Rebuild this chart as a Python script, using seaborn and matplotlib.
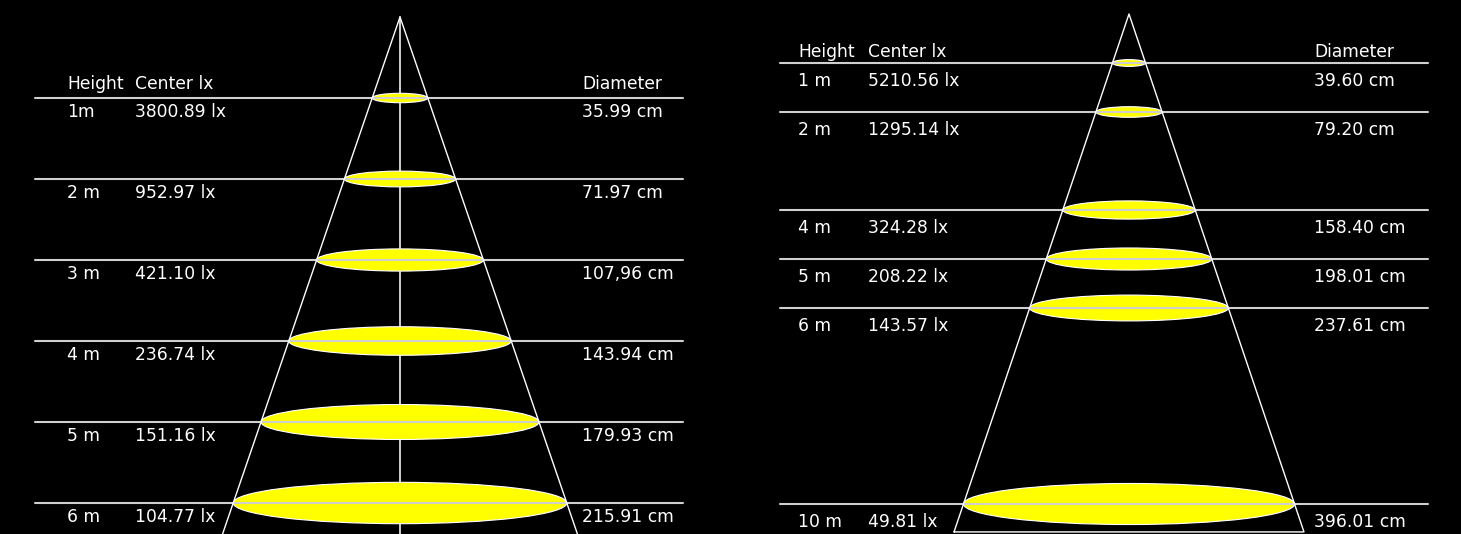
import numpy as np
import pandas as pd
import matplotlib.pyplot as plt
import seaborn as sns
from matplotlib.patches import Ellipse
from matplotlib.transforms import blended_transform_factory, offset_copy

# Data: left luminaire
left_heights = [1, 2, 3, 4, 5, 6]
left_height_labels = ['1m', '2 m', '3 m', '4 m', '5 m', '6 m']
left_lux = [3800.89, 952.97, 421.10, 236.74, 151.16, 104.77]
left_diam = [35.99, 71.97, 107.96, 143.94, 179.93, 215.91]
left_diam_labels = ['35.99 cm', '71.97 cm', '107,96 cm', '143.94 cm', '179.93 cm', '215.91 cm']

# Data: right luminaire
right_heights = [1, 2, 4, 5, 6, 10]
right_height_labels = ['1 m', '2 m', '4 m', '5 m', '6 m', '10 m']
right_lux = [5210.56, 1295.14, 324.28, 208.22, 143.57, 49.81]
right_diam = [39.60, 79.20, 158.40, 198.01, 237.61, 396.01]
right_diam_labels = [f'{d:.2f} cm' for d in right_diam]

sns.set_theme(style='dark', rc={'axes.facecolor': 'black', 'figure.facecolor': 'black'})
plt.rcParams['font.family'] = ['DejaVu Sans']

W_FIG, H_FIG = 1461, 534
fig = plt.figure(figsize=(W_FIG / 100, H_FIG / 100), dpi=100, facecolor='black')

# layout of each panel, in pixels
left_cfg = dict(x0=0, w=730, center=400, px_cm=1.545, y0=17, px_m=81,
                line_x=(35, 683), text_x=(67, 135, 582), head_off=9, row_off=19,
                vline=True, close_h=None)
right_cfg = dict(x0=730, w=731, center=399, px_cm=0.836, y0=14, px_m=49,
                 line_x=(50, 698), text_x=(68, 138, 584), head_off=6, row_off=23,
                 vline=False, close_h=10.57)


def draw_panel(heights, hlabels, lux, diam, dlabels, cfg):
    ax = fig.add_axes([cfg['x0'] / W_FIG, 0, cfg['w'] / W_FIG, 1])
    ax.set_facecolor('black')
    ax.set_xlim(-cfg['center'] / cfg['px_cm'], (cfg['w'] - cfg['center']) / cfg['px_cm'])
    ax.set_ylim((H_FIG - cfg['y0']) / cfg['px_m'], -cfg['y0'] / cfg['px_m'])
    ax.set_axis_off()

    # cone outline
    spread = diam[-1] / heights[-1] / 2
    h_end = cfg['close_h'] if cfg['close_h'] else ax.get_ylim()[0] + 0.2
    cone = pd.DataFrame({'x': [-spread * h_end, 0, spread * h_end],
                         'y': [h_end, 0, h_end]})
    if cfg['close_h']:
        cone = pd.concat([cone, cone.iloc[[0]]], ignore_index=True)
    sns.lineplot(data=cone, x='x', y='y', sort=False, estimator=None,
                 color='white', lw=1.0, ax=ax, zorder=4)
    if cfg['vline']:
        ax.plot([0, 0], [0, h_end], color='#cfcfcf', lw=1.4, zorder=1)

    fx = [t / cfg['w'] for t in cfg['text_x']]
    trans = blended_transform_factory(ax.transAxes, ax.transData)
    below = offset_copy(trans, fig=fig, x=0, y=-cfg['row_off'], units='dots')
    above = offset_copy(trans, fig=fig, x=0, y=cfg['head_off'], units='dots')
    tk = dict(color='white', fontsize=12.3, va='baseline', ha='left')

    for h, hl, lx, d, dl in zip(heights, hlabels, lux, diam, dlabels):
        w_px = d * cfg['px_cm']
        e_h = (0.115 * w_px + 3) / cfg['px_m']
        ax.add_patch(Ellipse((0, h), d, e_h, facecolor='#ffff00',
                             edgecolor='white', lw=0.8, zorder=2))
        ax.axhline(h, xmin=cfg['line_x'][0] / cfg['w'], xmax=cfg['line_x'][1] / cfg['w'],
                   color='#cfcfcf', lw=1.5, zorder=3)
        ax.text(fx[0], h, hl, transform=below, **tk)
        ax.text(fx[1], h, f'{lx:.2f} lx', transform=below, **tk)
        ax.text(fx[2], h, dl, transform=below, **tk)

    ax.text(fx[0], heights[0], 'Height', transform=above, **tk)
    ax.text(fx[1], heights[0], 'Center lx', transform=above, **tk)
    ax.text(fx[2], heights[0], 'Diameter', transform=above, **tk)
    return ax


draw_panel(left_heights, left_height_labels, left_lux, left_diam, left_diam_labels, left_cfg)
draw_panel(right_heights, right_height_labels, right_lux, right_diam, right_diam_labels, right_cfg)

plt.savefig('out.png', dpi=100, facecolor='black')
plt.close()
